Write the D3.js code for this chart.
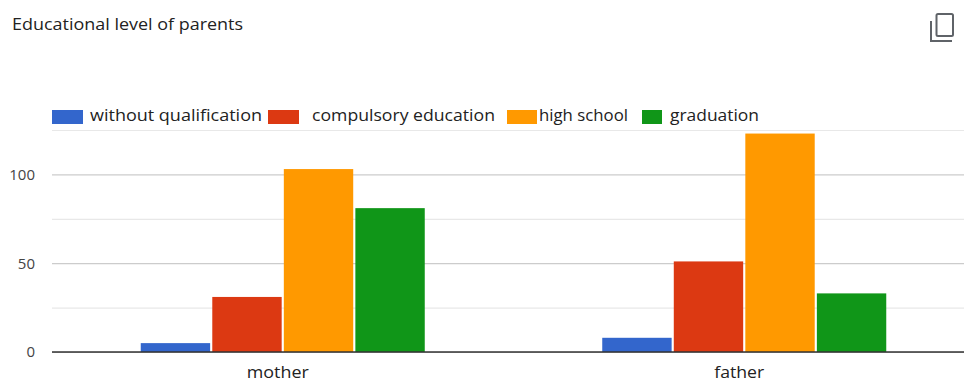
<!DOCTYPE html>
<html>
<head>
<meta charset="utf-8">
<script src="https://cdn.jsdelivr.net/npm/d3@7"></script>
<style>
  html, body { margin: 0; padding: 0; background: #fff; }
  svg { display: block; font-family: "Open Sans", "Noto Sans", sans-serif; }
</style>
</head>
<body>
<svg id="chart" width="964" height="383"></svg>
<script>
// Respondents' parents by highest educational level
const categories = ["mother", "father"];
const seriesNames = ["without qualification", "compulsory education", "high school", "graduation"];
const motherValues = [5, 31, 103, 81];
const fatherValues = [8, 51, 123, 33];
const majorTicks = [0, 50, 100];
const minorTicks = [25, 75, 125];
const titleText = "Educational level of parents";

const colors = ["#3366cc", "#dc3912", "#ff9900", "#109618"];
const valuesByCategory = { mother: motherValues, father: fatherValues };

const W = 964, H = 383;
const svg = d3.select("#chart");

// plot area (extends a little past the right edge, as the chart is cropped)
const plot = { left: 52, right: 975, top: 130, bottom: 352 };

const y = d3.scaleLinear().domain([0, 125]).range([plot.bottom, plot.top]);
const x0 = d3.scaleBand().domain(categories).range([plot.left, plot.right])
  .paddingInner(0.3846).paddingOuter(0.1923);
const x1 = d3.scaleBand().domain(seriesNames).range([0, x0.bandwidth()]).paddingInner(0.03);

// title
svg.append("text")
  .attr("x", 12).attr("y", 30)
  .attr("font-size", 16).attr("fill", "#222")
  .attr("textLength", 231).attr("lengthAdjust", "spacingAndGlyphs")
  .text(titleText);

// copy icon (top right)
const icon = svg.append("g").attr("fill", "none").attr("stroke", "#5f6368").attr("stroke-width", 2);
icon.append("rect").attr("x", 936.5).attr("y", 14).attr("width", 16.5).attr("height", 22).attr("rx", 1.5);
icon.append("path").attr("d", "M931,21 V41 H952");

// minor gridlines
svg.append("g")
  .attr("transform", `translate(${plot.left},0)`)
  .call(d3.axisLeft(y).tickValues(minorTicks).tickSize(-(W - plot.left)).tickFormat(""))
  .call(g => g.select(".domain").remove())
  .call(g => g.selectAll(".tick line").attr("stroke", "#e8e8e8").attr("stroke-width", 1.2));

// major gridlines + labels
svg.append("g")
  .attr("transform", `translate(${plot.left},0)`)
  .call(d3.axisLeft(y).tickValues(majorTicks).tickSize(-(W - plot.left)).tickPadding(17))
  .call(g => g.select(".domain").remove())
  .call(g => g.selectAll(".tick line").attr("stroke", "#cccccc").attr("stroke-width", 1.2))
  .call(g => g.selectAll(".tick text")
    .attr("font-family", "'Open Sans', sans-serif")
    .attr("font-size", 15).attr("fill", "#444"));

// bars
const groups = svg.append("g").selectAll("g")
  .data(categories)
  .join("g")
  .attr("transform", d => `translate(${x0(d)},0)`);

groups.selectAll("rect")
  .data(c => seriesNames.map((s, i) => ({ series: s, value: valuesByCategory[c][i], color: colors[i] })))
  .join("rect")
  .attr("x", d => x1(d.series))
  .attr("width", x1.bandwidth())
  .attr("y", d => y(d.value))
  .attr("height", d => y(0) - y(d.value))
  .attr("fill", d => d.color);

// baseline
svg.append("line")
  .attr("x1", plot.left).attr("x2", W)
  .attr("y1", y(0)).attr("y2", y(0))
  .attr("stroke", "#333").attr("stroke-width", 1.5);

// category axis labels
const catWidths = { mother: 62, father: 50 };
svg.append("g").selectAll("text")
  .data(categories)
  .join("text")
  .attr("x", d => x0(d) + x0.bandwidth() / 2 - 5)
  .attr("y", 378)
  .attr("text-anchor", "middle")
  .attr("font-size", 17).attr("fill", "#222")
  .attr("textLength", d => catWidths[d]).attr("lengthAdjust", "spacingAndGlyphs")
  .text(d => d);

// legend
const legendLayout = [
  { sx: 52, sw: 31, tx: 90, tw: 172 },
  { sx: 268, sw: 31, tx: 312, tw: 183 },
  { sx: 507, sw: 30, tx: 539, tw: 89 },
  { sx: 642, sw: 20, tx: 670, tw: 89 }
];
const legend = svg.append("g").selectAll("g")
  .data(seriesNames)
  .join("g");
legend.append("rect")
  .attr("x", (d, i) => legendLayout[i].sx)
  .attr("y", 110)
  .attr("width", (d, i) => legendLayout[i].sw)
  .attr("height", 14)
  .attr("fill", (d, i) => colors[i]);
legend.append("text")
  .attr("x", (d, i) => legendLayout[i].tx)
  .attr("y", 121)
  .attr("font-size", 17).attr("fill", "#222")
  .attr("textLength", (d, i) => legendLayout[i].tw).attr("lengthAdjust", "spacingAndGlyphs")
  .text(d => d);
</script>
</body>
</html>
